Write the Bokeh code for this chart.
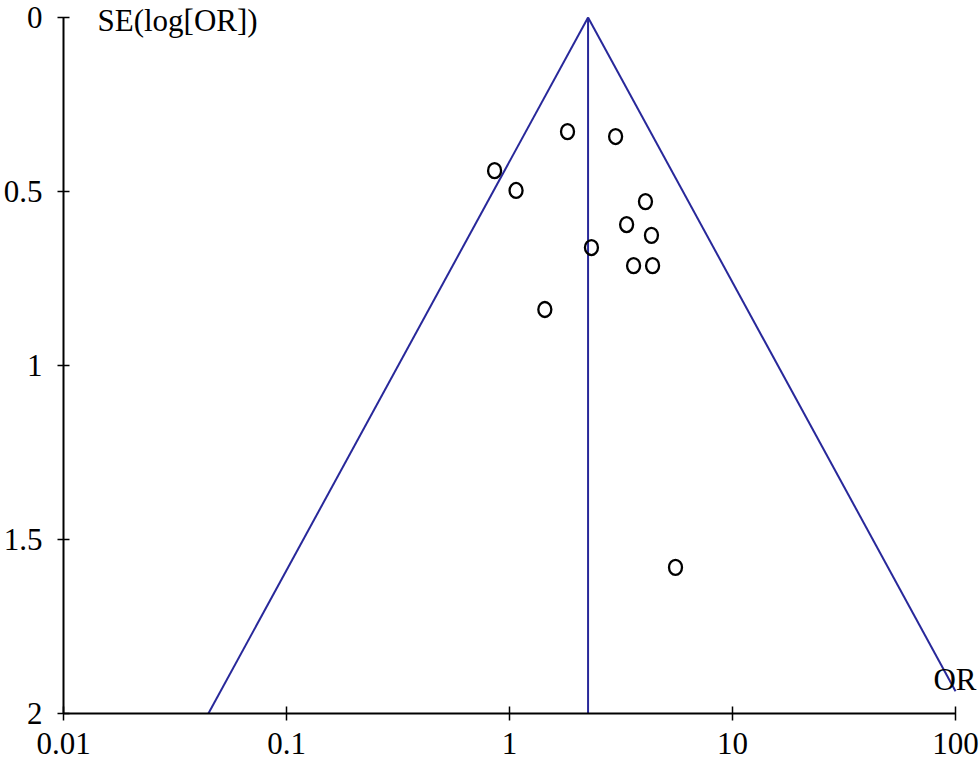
import numpy as np
from bokeh.plotting import figure
from bokeh.models import Range1d, FixedTicker, Label
from bokeh.embed import file_html
from bokeh.resources import INLINE

# Study estimates
or_values = [1.82, 2.99, 0.857, 1.07, 4.07, 3.35, 4.33, 2.33, 3.60, 4.38, 1.44, 5.55]
se_values = [0.328, 0.342, 0.440, 0.497, 0.529, 0.595, 0.626, 0.661, 0.713, 0.713, 0.839, 1.580]

# Pooled estimate and funnel limits
pooled_or = 2.25
z_value = 1.96
se_max = 2.0
or_axis = (0.01, 100)
se_axis = (0, 2)

x_ticks = [0.01, 0.1, 1, 10, 100]
x_tick_labels = ["0.01", "0.1", "1", "10", "100"]
y_ticks = [0, 0.5, 1, 1.5, 2]
y_tick_labels = ["0", "0.5", "1", "1.5", "2"]

FONT = "Liberation Serif"
LINE_BLUE = "#28289a"

# ranges padded to the top/right so the corner texts are not clipped;
# axis lines are bounded to the real data extent
p = figure(width=980, height=761, x_axis_type="log",
           x_range=Range1d(0.01, 129.4), y_range=Range1d(2, -0.0489),
           output_backend="svg", toolbar_location=None,
           min_border_left=63, min_border_right=0,
           min_border_top=0, min_border_bottom=48)
p.outline_line_color = None
p.xgrid.visible = False
p.ygrid.visible = False
p.background_fill_color = "white"
p.border_fill_color = "white"

# funnel lines (the right limit stops where it meets the OR axis end)
left_end = pooled_or * np.exp(-z_value * se_max)
right_se_end = min(se_max, np.log(or_axis[1] / pooled_or) / z_value)
right_end = pooled_or * np.exp(z_value * right_se_end)
p.line([pooled_or, left_end], [0, se_max], line_color=LINE_BLUE, line_width=2)
p.line([pooled_or, right_end], [0, right_se_end], line_color=LINE_BLUE, line_width=2)
p.line([pooled_or, pooled_or], [0, se_max], line_color=LINE_BLUE, line_width=2)

# study points
p.ellipse(x=or_values, y=se_values, width=13, height=15,
          width_units="screen", height_units="screen",
          fill_color=None, line_color="black", line_width=2.3)

# axes
xa = p.xaxis[0]
xa.ticker = FixedTicker(ticks=x_ticks)
xa.bounds = or_axis
xa.major_label_overrides = {t: l for t, l in zip(x_ticks, x_tick_labels)}
xa.minor_tick_line_color = None
xa.major_tick_in = 7
xa.major_tick_out = 7
xa.major_label_standoff = 12
xa.major_label_text_line_height = 0.8
ya = p.yaxis[0]
ya.ticker = FixedTicker(ticks=y_ticks)
ya.bounds = se_axis
ya.major_label_overrides = {t: l for t, l in zip(y_ticks, y_tick_labels)}
ya.minor_tick_line_color = None
ya.major_tick_in = 6
ya.major_tick_out = 6
ya.major_label_standoff = 15
for ax in (xa, ya):
    ax.axis_line_width = 2
    ax.axis_line_color = "black"
    ax.major_tick_line_width = 1.5
    ax.major_tick_line_color = "black"
    ax.major_label_text_font = FONT
    ax.major_label_text_font_size = "31px"
    ax.major_label_text_color = "black"

p.add_layout(Label(x=0.0142, y=0.0085, text="SE(log[OR])", text_font=FONT,
                   text_font_size="31px", text_color="black",
                   text_align="left", text_baseline="alphabetic"))
p.add_layout(Label(x=79.6, y=1.902, text="OR", text_font=FONT,
                   text_font_size="31px", text_color="black",
                   text_align="left", text_baseline="alphabetic"))

open("out.html", "w").write(file_html(p, INLINE))
